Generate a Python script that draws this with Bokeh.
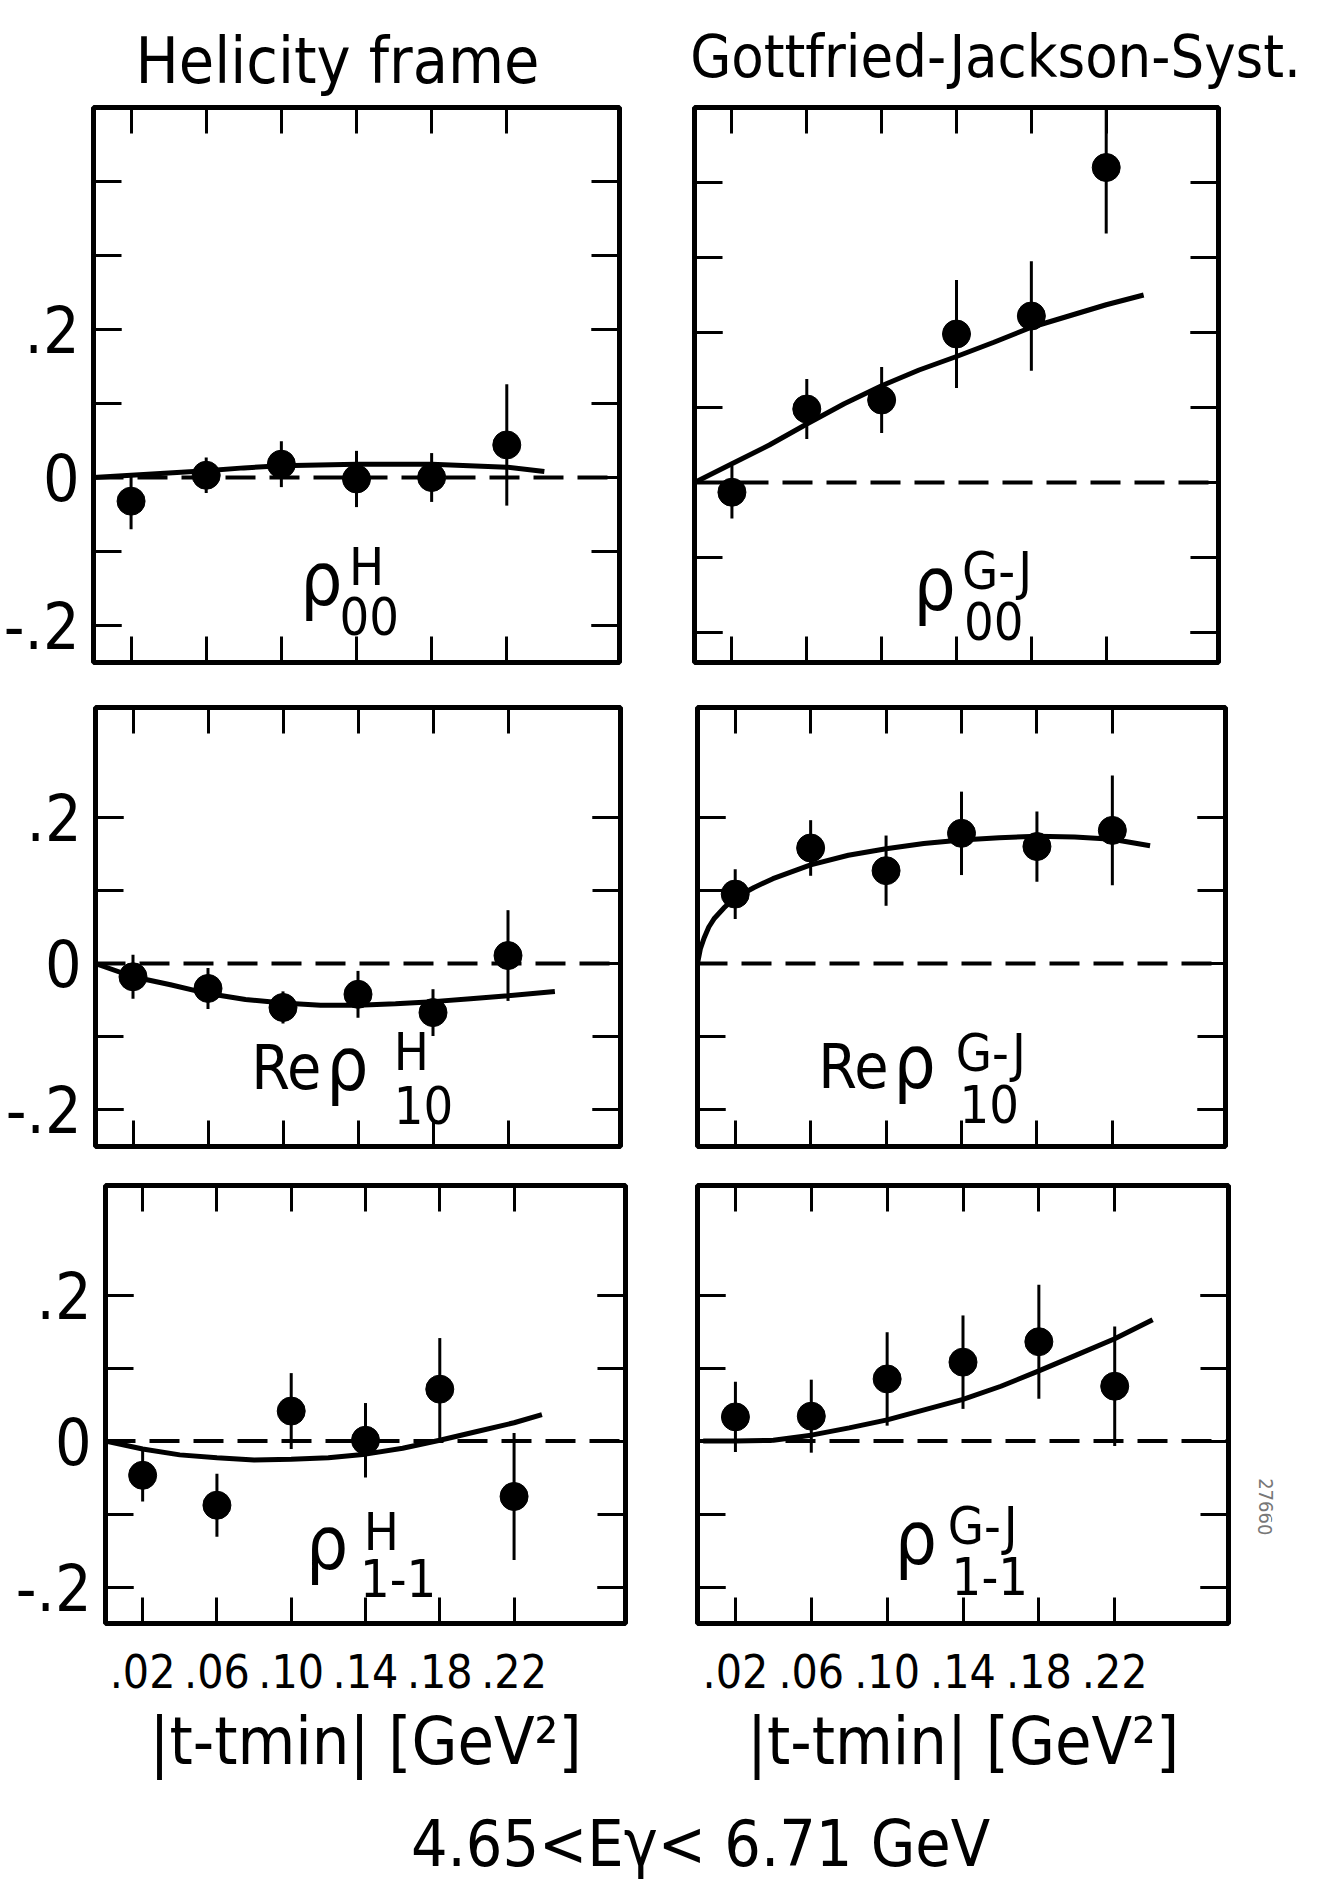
import subprocess
from bokeh.plotting import figure
from bokeh.layouts import column, row
from bokeh.models import (ColumnDataSource, FixedTicker, LinearAxis, Range1d,
                          Span, CustomJSTickFormatter)
from bokeh.core.properties import value
from bokeh.embed import file_html
from bokeh.resources import INLINE


def available_families():
    try:
        out = subprocess.run(["fc-list", ":", "family"], capture_output=True,
                             text=True, timeout=20).stdout
    except Exception:
        return set()
    fams = set()
    for line in out.splitlines():
        for f in line.split(","):
            fams.add(f.strip())
    return fams


FAMS = available_families()
FONT = "Roboto"
NARROW = False
for cand in ["Liberation Sans Narrow", "DejaVu Sans Condensed", "Roboto Condensed"]:
    if cand in FAMS:
        FONT = cand
        NARROW = cand == "Liberation Sans Narrow"
        break

if NARROW:
    SZ = dict(title1=80, title2=74, xtick=58, ytick=66, xlab=72,
              cap=78, rho=80, sup=56, re=64)
else:
    SZ = dict(title1=64, title2=59, xtick=46, ytick=64, xlab=66,
              cap=64, rho=74, sup=52, re=62)

BASE_SHIFT = 0.35  # em offset of the drawn baseline, compensated below

# ---------------- data ----------------
t_bins = [0.02, 0.06, 0.10, 0.14, 0.18, 0.22]
x_tick_values = [0.02, 0.06, 0.10, 0.14, 0.18, 0.22]
y_label_ticks = [-0.2, 0.0, 0.2]
y_ticks_tall = [-0.2, -0.1, 0.0, 0.1, 0.2, 0.3, 0.4]
y_ticks_short = [-0.2, -0.1, 0.0, 0.1, 0.2]

rho00_H = [-0.032, 0.003, 0.018, -0.002, 0.000, 0.044]
rho00_H_err = [0.038, 0.024, 0.031, 0.038, 0.033, 0.082]
rho00_GJ = [-0.013, 0.098, 0.110, 0.198, 0.222, 0.420]
rho00_GJ_err = [0.035, 0.040, 0.044, 0.072, 0.073, 0.088]

re_rho10_H = [-0.018, -0.034, -0.060, -0.042, -0.067, 0.011]
re_rho10_H_err = [0.030, 0.028, 0.022, 0.032, 0.032, 0.062]
re_rho10_GJ = [0.095, 0.158, 0.127, 0.178, 0.160, 0.182]
re_rho10_GJ_err = [0.034, 0.038, 0.048, 0.057, 0.048, 0.075]

rho1m1_H = [-0.047, -0.088, 0.041, 0.001, 0.071, -0.076]
rho1m1_H_err = [0.036, 0.043, 0.052, 0.051, 0.070, 0.087]
rho1m1_GJ = [0.033, 0.034, 0.085, 0.108, 0.136, 0.075]
rho1m1_GJ_err = [0.048, 0.050, 0.064, 0.064, 0.078, 0.082]

# model curves
fit_t = [0.0, 0.02, 0.04, 0.06, 0.08, 0.10, 0.12, 0.14, 0.16, 0.18, 0.20, 0.22, 0.24]
fit_rho00_H = [0.0, 0.003, 0.006, 0.009, 0.013, 0.016, 0.017, 0.018, 0.018, 0.018, 0.016, 0.014, 0.008]
fit_rho00_GJ = [0.0, 0.025, 0.050, 0.078, 0.105, 0.129, 0.150, 0.168, 0.187, 0.207, 0.222, 0.237, 0.250]
fit_re_rho10_H_t = [0.0, 0.02, 0.04, 0.06, 0.08, 0.10, 0.12, 0.14, 0.16, 0.18, 0.20, 0.22, 0.245]
fit_re_rho10_H = [0.0, -0.018, -0.029, -0.041, -0.049, -0.054, -0.057, -0.057, -0.055, -0.052, -0.048, -0.044, -0.038]
fit_re_rho10_GJ_t = [0.0, 0.0015, 0.0035, 0.006, 0.009, 0.014, 0.02, 0.03, 0.04, 0.06, 0.08,
                     0.10, 0.12, 0.14, 0.16, 0.18, 0.20, 0.22, 0.24]
fit_re_rho10_GJ = [0.0, 0.020, 0.035, 0.050, 0.062, 0.076, 0.090, 0.104, 0.116, 0.135, 0.148,
                   0.157, 0.164, 0.169, 0.172, 0.174, 0.173, 0.170, 0.161]
fit_rho1m1_H_t = [0.0, 0.02, 0.04, 0.06, 0.08, 0.10, 0.12, 0.14, 0.16, 0.18, 0.20, 0.22, 0.235]
fit_rho1m1_H = [0.0, -0.011, -0.019, -0.023, -0.026, -0.025, -0.023, -0.018, -0.010, 0.001, 0.013, 0.025, 0.036]
fit_rho1m1_GJ_t = [0.003, 0.02, 0.04, 0.06, 0.08, 0.10, 0.12, 0.14, 0.16, 0.18, 0.20, 0.22, 0.24]
fit_rho1m1_GJ = [0.0, 0.0, 0.001, 0.008, 0.018, 0.029, 0.043, 0.057, 0.075, 0.096, 0.118, 0.140, 0.166]

x_fmt = CustomJSTickFormatter(code="return tick.toFixed(2).replace(/^0\\./, '.');")
y_fmt = CustomJSTickFormatter(code="if (Math.abs(tick) < 1e-9) { return '0'; } return tick.toFixed(1).replace('0.', '.');")

TICK_X = 26
TICK_Y = 28


def px(n):
    return f"{n}px"


def style_axis(ax, tick_len, show_labels, label_size=62, standoff=14):
    ax.axis_line_color = None
    ax.major_tick_in = tick_len
    ax.major_tick_out = 0
    ax.minor_tick_in = tick_len
    ax.minor_tick_out = 0
    ax.major_tick_line_width = 3
    ax.minor_tick_line_width = 3
    ax.major_tick_line_color = "black"
    ax.minor_tick_line_color = "black"
    if show_labels:
        ax.major_label_text_font = FONT
        ax.major_label_text_font_size = px(label_size)
        ax.major_label_text_color = "black"
        ax.major_label_standoff = standoff
    else:
        ax.major_label_text_font_size = "1px"
        ax.major_label_text_color = None
        ax.major_label_text_alpha = 0
        ax.major_label_standoff = 0


def blank_fig(w, h):
    f = figure(width=w, height=h, x_range=Range1d(0, w), y_range=Range1d(0, h),
               output_backend="svg", toolbar_location=None, x_axis_type=None,
               y_axis_type=None, min_border=0, outline_line_color=None)
    f.xgrid.visible = False
    f.ygrid.visible = False
    return f


def panel(width, height, left, right, top, bottom, yr, yticks, vals, errs,
          ct, cy, xlabels, ylabels, texts):
    p = figure(width=width, height=height, x_range=Range1d(0.0, 0.28), y_range=Range1d(*yr),
               output_backend="svg", toolbar_location=None,
               min_border_left=left, min_border_right=right,
               min_border_top=top, min_border_bottom=bottom)
    p.xgrid.visible = False
    p.ygrid.visible = False
    p.outline_line_color = "black"
    p.outline_line_width = 5
    p.outline_line_alpha = 1.0
    p.background_fill_color = "white"
    p.border_fill_color = "white"

    bx = p.xaxis[0]
    bx.ticker = FixedTicker(ticks=x_tick_values, minor_ticks=[])
    bx.formatter = x_fmt
    style_axis(bx, TICK_X, xlabels, label_size=SZ["xtick"], standoff=30)
    if xlabels:
        bx.axis_label = "|t-tmin| [GeV²]"
        bx.axis_label_text_font = FONT
        bx.axis_label_text_font_size = px(SZ["xlab"])
        bx.axis_label_text_font_style = "normal"
        bx.axis_label_text_color = "black"
        bx.axis_label_standoff = 12

    ly = p.yaxis[0]
    ly.ticker = FixedTicker(ticks=y_label_ticks, minor_ticks=yticks)
    ly.formatter = y_fmt
    style_axis(ly, TICK_Y, ylabels, label_size=SZ["ytick"], standoff=14)

    ax_top = LinearAxis(ticker=FixedTicker(ticks=x_tick_values, minor_ticks=[]))
    style_axis(ax_top, TICK_X, False)
    p.add_layout(ax_top, "above")
    ax_right = LinearAxis(ticker=FixedTicker(ticks=y_label_ticks, minor_ticks=yticks))
    style_axis(ax_right, TICK_Y, False)
    p.add_layout(ax_right, "right")

    p.add_layout(Span(location=0, dimension="width", line_color="black",
                      line_width=4, line_dash="30 14"))

    src = ColumnDataSource(dict(t=t_bins, v=vals,
                                lo=[v - e for v, e in zip(vals, errs)],
                                hi=[v + e for v, e in zip(vals, errs)]))
    p.segment(x0="t", y0="lo", x1="t", y1="hi", source=src, line_color="black", line_width=3)
    p.line(ct, cy, line_color="black", line_width=5)
    p.scatter("t", "v", source=src, size=28, fill_color="black", line_color="black")

    # label of the quantity: (text, left x, baseline y, size key)
    ppu = (height - top - bottom) / (yr[1] - yr[0])
    tsrc = ColumnDataSource(dict(
        x=[d[1] for d in texts],
        y=[d[2] + BASE_SHIFT * SZ[d[3]] / ppu for d in texts],
        text=[d[0] for d in texts],
        size=[px(SZ[d[3]]) for d in texts]))
    p.text(x="x", y="y", text="text", source=tsrc, text_font=value(FONT),
           text_font_size="size", text_align="left", text_baseline="alphabetic",
           text_color="black")
    return p


RHO = "ρ"
ROW3_H = 638

tl = panel(657, 585, 93, 38, 7, 19, (-0.25, 0.50), y_ticks_tall, rho00_H, rho00_H_err,
           fit_t, fit_rho00_H, False, True,
           [(RHO, 0.110, -0.172, "rho"), ("H", 0.136, -0.145, "sup"), ("00", 0.131, -0.212, "sup")])
tr = panel(663, 585, 37, 102, 0, 23, (-0.24, 0.50), y_ticks_tall, rho00_GJ, rho00_GJ_err,
           fit_t, fit_rho00_GJ, False, False,
           [(RHO, 0.117, -0.170, "rho"), ("G-J", 0.143, -0.142, "sup"), ("00", 0.144, -0.208, "sup")])
ml = panel(657, 481, 95, 37, 20, 18, (-0.25, 0.35), y_ticks_short, re_rho10_H, re_rho10_H_err,
           fit_re_rho10_H_t, fit_re_rho10_H, False, True,
           [("Re", 0.083, -0.172, "re"), (RHO, 0.123, -0.172, "rho"),
            ("H", 0.159, -0.145, "sup"), ("10", 0.159, -0.218, "sup")])
mr = panel(663, 481, 40, 95, 22, 20, (-0.25, 0.35), y_ticks_short, re_rho10_GJ, re_rho10_GJ_err,
           fit_re_rho10_GJ_t, fit_re_rho10_GJ, False, False,
           [("Re", 0.064, -0.170, "re"), (RHO, 0.104, -0.170, "rho"),
            ("G-J", 0.137, -0.147, "sup"), ("10", 0.139, -0.217, "sup")])
bl = panel(657, ROW3_H, 105, 32, 17, ROW3_H - 17 - 445, (-0.25, 0.35), y_ticks_short,
           rho1m1_H, rho1m1_H_err, fit_rho1m1_H_t, fit_rho1m1_H, True, True,
           [(RHO, 0.108, -0.174, "rho"), ("H", 0.139, -0.149, "sup"), ("1-1", 0.137, -0.212, "sup")])
br = panel(583, ROW3_H, 40, 12, 19, ROW3_H - 19 - 438, (-0.25, 0.35), y_ticks_short,
           rho1m1_GJ, rho1m1_GJ_err, fit_rho1m1_GJ_t, fit_rho1m1_GJ, True, False,
           [(RHO, 0.104, -0.168, "rho"), ("G-J", 0.132, -0.142, "sup"), ("1-1", 0.134, -0.210, "sup")])

# titles row (baselines 83 and 77 px below the page top)
titles = blank_fig(1320, 100)
title_src = ColumnDataSource(dict(
    x=[337, 995],
    y=[100 - 83 + BASE_SHIFT * SZ["title1"], 100 - 77 + BASE_SHIFT * SZ["title2"]],
    text=["Helicity frame", "Gottfried-Jackson-Syst."],
    size=[px(SZ["title1"]), px(SZ["title2"])]))
titles.text(x="x", y="y", text="text", source=title_src, text_font=value(FONT),
            text_font_size="size", text_align="center", text_baseline="alphabetic",
            text_color="black")

# archive stamp at right edge
stamp = blank_fig(80, ROW3_H)
stamp.text(x=[25], y=[ROW3_H - 468], text=["27660"], angle=-1.5708, text_font=value(FONT),
           text_font_size="20px", text_align="center", text_baseline="middle",
           text_color="#777777")

# caption row (baseline 62 px below its top)
CAP_H = 1900 - 100 - 585 - 481 - ROW3_H
cap = blank_fig(1320, CAP_H)
cap.text(x=[700], y=[CAP_H - 62 + BASE_SHIFT * SZ["cap"]], text=["4.65<Eγ< 6.71 GeV"],
         text_font=value(FONT), text_font_size=px(SZ["cap"]), text_align="center",
         text_baseline="alphabetic", text_color="black")

layout = column(titles, row(tl, tr), row(ml, mr), row(bl, br, stamp), cap)
open("out.html", "w").write(file_html(layout, INLINE))
